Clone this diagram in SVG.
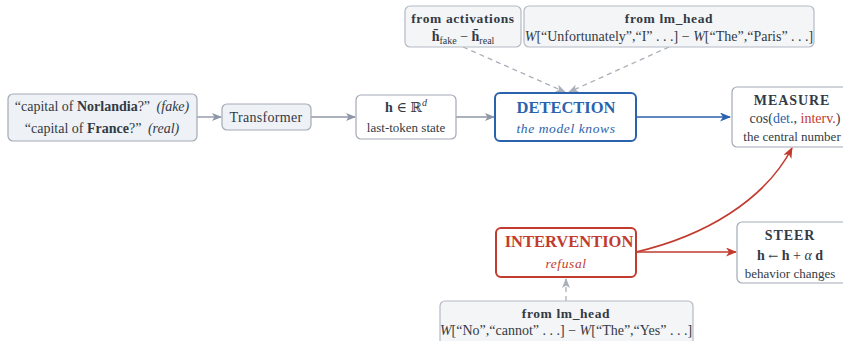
<svg xmlns="http://www.w3.org/2000/svg" width="843" height="341" viewBox="0 0 843 341">
  <style>
    text { font-family: "Liberation Serif", "DejaVu Serif", serif; fill: #333a44; text-anchor: middle; }
    .t14 { font-size: 14px; }
    .t13 { font-size: 13px; }
    .b { font-weight: bold; }
    .i { font-style: italic; }
    .sym { font-family: "DejaVu Serif", serif; font-size: 12px; }
    .head { font-size: 14px; font-weight: bold; letter-spacing: 0.9px; }
    .src { font-size: 13.5px; font-weight: bold; letter-spacing: 0.6px; }
    .title { font-size: 16.5px; font-weight: bold; }
    .sub { font-size: 13.5px; font-style: italic; letter-spacing: 0.6px; }
    .soft { fill: #eef1f5; stroke: #a3aab5; stroke-width: 1.2; }
    .pale { fill: #f4f5f7; stroke: #b4bac3; stroke-width: 1.2; }
    .plain { fill: #ffffff; stroke: #a3aab5; stroke-width: 1.2; }
    .det { fill: #ffffff; stroke: #2b62ad; stroke-width: 2; }
    .int { fill: #ffffff; stroke: #c23b2e; stroke-width: 2; }
    .blue { fill: #2b62ad; }
    .red { fill: #c23b2e; }
    .flow { fill: none; stroke: #8e97a5; stroke-width: 1.4; }
    .dash { fill: none; stroke: #a9b0ba; stroke-width: 1.3; stroke-dasharray: 5 4; }
    .bl { fill: none; stroke: #2b62ad; stroke-width: 1.6; }
    .rd { fill: none; stroke: #c23b2e; stroke-width: 1.6; }
  </style>
  <defs>
    <marker id="ah-gray" markerWidth="10" markerHeight="8" refX="9" refY="4" orient="auto" markerUnits="userSpaceOnUse">
      <path d="M0,0 L10,4 L0,8 L2.5,4 Z" fill="#8e97a5"/>
    </marker>
    <marker id="ah-dash" markerWidth="10" markerHeight="8" refX="9" refY="4" orient="auto" markerUnits="userSpaceOnUse">
      <path d="M0,0 L10,4 L0,8 L2.5,4 Z" fill="#a9b0ba"/>
    </marker>
    <marker id="ah-blue" markerWidth="11" markerHeight="9" refX="10" refY="4.5" orient="auto" markerUnits="userSpaceOnUse">
      <path d="M0,0 L11,4.5 L0,9 L3,4.5 Z" fill="#2b62ad"/>
    </marker>
    <marker id="ah-red" markerWidth="11" markerHeight="9" refX="10" refY="4.5" orient="auto" markerUnits="userSpaceOnUse">
      <path d="M0,0 L11,4.5 L0,9 L3,4.5 Z" fill="#c23b2e"/>
    </marker>
  </defs>

  <!-- connectors -->
  <g id="connectors">
    <line class="flow" x1="197" y1="117" x2="221" y2="117" marker-end="url(#ah-gray)"/>
    <line class="flow" x1="311" y1="117" x2="355" y2="117" marker-end="url(#ah-gray)"/>
    <line class="flow" x1="456" y1="117" x2="494" y2="117" marker-end="url(#ah-gray)"/>
    <line class="bl" x1="636" y1="117" x2="730" y2="117" marker-end="url(#ah-blue)"/>
    <line class="dash" x1="463" y1="47" x2="565" y2="92" marker-end="url(#ah-dash)"/>
    <line class="dash" x1="669" y1="47" x2="569" y2="92" marker-end="url(#ah-dash)"/>
    <line class="dash" x1="566" y1="301" x2="566" y2="279" marker-end="url(#ah-dash)"/>
    <line class="rd" x1="636" y1="252" x2="736" y2="252" marker-end="url(#ah-red)"/>
    <path class="rd" d="M636,252 C705,236 765,200 792,148" marker-end="url(#ah-red)"/>
  </g>

  <!-- prompt pair -->
  <g id="prompts">
    <rect class="soft" x="8" y="94" width="189" height="47" rx="5"/>
    <text class="t14" x="102" y="111">“capital of <tspan class="b">Norlandia</tspan>?” <tspan class="i" dx="3">(fake)</tspan></text>
    <text class="t14" x="102" y="133">“capital of <tspan class="b">France</tspan>?” <tspan class="i" dx="3">(real)</tspan></text>
  </g>

  <g id="transformer">
    <rect class="soft" x="222" y="104" width="89" height="26" rx="5"/>
    <text class="t14" x="266" y="122" letter-spacing="0.3">Transformer</text>
  </g>

  <g id="hidden-state">
    <rect class="plain" x="356" y="95" width="100" height="44" rx="5"/>
    <text class="t14" x="406" y="112"><tspan class="b">h</tspan> ∈ <tspan font-family="DejaVu Serif">ℝ</tspan><tspan class="i" font-size="10" dy="-6">d</tspan></text>
    <text class="t13" x="406" y="132">last-token state</text>
  </g>

  <g id="detection">
    <rect class="det" x="495" y="93" width="141" height="48" rx="5"/>
    <text class="title blue" x="566" y="113">DETECTION</text>
    <text class="sub blue" x="566" y="133">the model knows</text>
  </g>

  <g id="measure">
    <rect class="plain" x="732" y="87" width="120" height="60" rx="5"/>
    <text class="head" x="792" y="105">MEASURE</text>
    <text class="t14" x="795" y="123">cos(<tspan class="blue">det.</tspan>, <tspan class="red">interv.</tspan>)</text>
    <text class="t13" x="792" y="141">the central number</text>
  </g>

  <g id="from-activations">
    <rect class="pale" x="405" y="6" width="116" height="41" rx="5"/>
    <text class="src" x="463" y="23">from activations</text>
    <text class="t14" x="463" y="41"><tspan class="b">h̄</tspan><tspan font-size="10" dy="3">fake</tspan><tspan dy="-3"> − </tspan><tspan class="b">h̄</tspan><tspan font-size="10" dy="3">real</tspan></text>
  </g>

  <g id="from-lm-head-detection">
    <rect class="pale" x="524" y="6" width="290" height="41" rx="5"/>
    <text class="src" x="669" y="23">from lm_head</text>
    <text class="t14" x="669" y="41"><tspan class="i">W</tspan>[“Unfortunately”,“I” . . .] − <tspan class="i">W</tspan>[“The”,“Paris” . . .]</text>
  </g>

  <g id="intervention">
    <rect class="int" x="496" y="228" width="140" height="49" rx="5"/>
    <text class="title red" x="569" y="247">INTERVENTION</text>
    <text class="sub red" x="566" y="268">refusal</text>
  </g>

  <g id="steer">
    <rect class="plain" x="737" y="222" width="115" height="61" rx="5"/>
    <text class="head" x="790" y="240">STEER</text>
    <text class="t14" x="790" y="260"><tspan class="b">h</tspan> <tspan class="sym">←</tspan> <tspan class="b">h</tspan> + <tspan class="i">α</tspan> <tspan class="b">d</tspan></text>
    <text class="t13" x="790" y="278">behavior changes</text>
  </g>

  <g id="from-lm-head-intervention">
    <rect class="pale" x="440" y="301" width="253" height="50" rx="5"/>
    <text class="src" x="566" y="318">from lm_head</text>
    <text class="t14" x="566" y="335"><tspan class="i">W</tspan>[“No”,“cannot” . . .] − <tspan class="i">W</tspan>[“The”,“Yes” . . .]</text>
  </g>
</svg>
